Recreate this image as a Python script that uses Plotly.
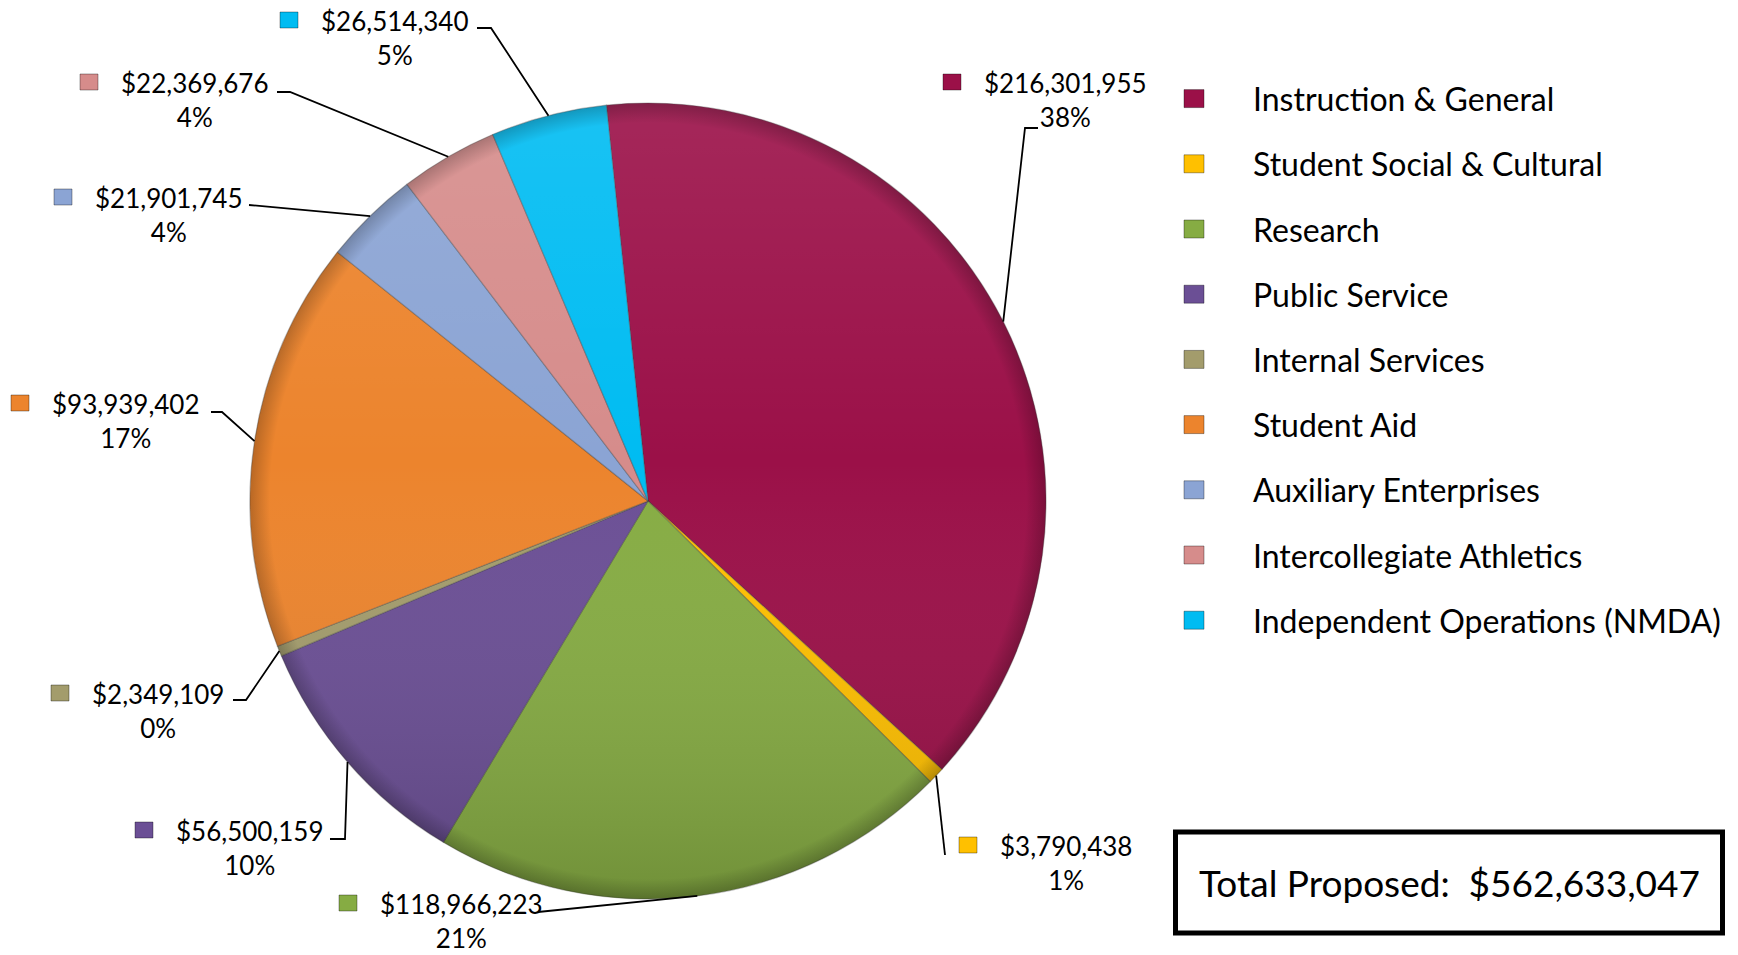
import math
import base64
import plotly.graph_objects as go

# ---- data -------------------------------------------------------------
CATEGORIES = [
    "Instruction & General",
    "Student Social & Cultural",
    "Research",
    "Public Service",
    "Internal Services",
    "Student Aid",
    "Auxiliary Enterprises",
    "Intercollegiate Athletics",
    "Independent Operations (NMDA)",
]
AMOUNTS = [
    216301955,
    3790438,
    118966223,
    56500159,
    2349109,
    93939402,
    21901745,
    22369676,
    26514340,
]
COLORS = [
    "#9B1048", "#FFC000", "#86AC43", "#6B4F95", "#A39C6C",
    "#EC842D", "#8BA4D4", "#D68C8B", "#00BCF2",
]
TOTAL_LABEL = "Total Proposed:"

# ---- page geometry (pixels) ------------------------------------------
W, H = 1738, 955
CX, CY, R = 648, 501, 398          # pie centre and radius
ROTATION = -6                      # first slice starts 6 deg left of 12 o'clock

# data-label blocks: left edge of the amount line, centre y of the amount line
LABEL_POS = [
    (982, 82), (998, 845), (378, 903), (174, 830), (90, 693),
    (50, 403), (93, 197), (119, 82), (319, 20),
]
# leader-line bend points from the label towards the slice edge
LEADER_PTS = [
    [(1038, 128), (1025, 128)],
    [(945, 855)],
    [(538, 912)],
    [(330, 839), (345, 839)],
    [(233, 700), (246, 700)],
    [(211, 412), (222, 412)],
    [(249, 205)],
    [(277, 92), (290, 92)],
    [(477, 28), (491, 28)],
]
LEGEND_X_MARK, LEGEND_X_TEXT = 1194, 1251
LEGEND_Y0, LEGEND_STEP = 98.6, 65.2
BOX = (1175.5, 832, 1722.5, 933)

FONT = "Lato, 'Open Sans', sans-serif"


def px(x):
    return x / W


def py(y):
    return 1 - y / H


total = sum(AMOUNTS)

fig = go.Figure(
    go.Pie(
        labels=CATEGORIES,
        values=AMOUNTS,
        sort=False,
        direction="clockwise",
        rotation=ROTATION,
        marker=dict(colors=COLORS, line=dict(color="rgba(60,60,60,0.35)", width=1.2)),
        textinfo="none",
        hoverinfo="label+value+percent",
        domain=dict(x=[px(CX - R), px(CX + R)], y=[py(CY + R), py(CY - R)]),
        showlegend=False,
    )
)

shapes = []
annotations = []

# slice mid-angles (degrees clockwise from 12 o'clock)
cum = 0.0
for i, (cat, val, col) in enumerate(zip(CATEGORIES, AMOUNTS, COLORS)):
    frac = val / total
    mid = ROTATION + 360 * (cum + frac / 2)
    cum += frac
    a = math.radians(mid)
    ex, ey = CX + R * math.sin(a), CY - R * math.cos(a)

    # leader line
    pts = LEADER_PTS[i] + [(ex, ey)]
    path = "M " + " L ".join(f"{px(x):.5f},{py(y):.5f}" for x, y in pts)
    shapes.append(dict(type="path", xref="paper", yref="paper", path=path,
                       line=dict(color="black", width=1.8)))

    # label text: amount over percentage
    lx, ly = LABEL_POS[i]
    pct = round(100 * frac)
    annotations.append(dict(
        x=px(lx), y=py(ly + 18), xref="paper", yref="paper",
        xanchor="left", yanchor="middle", align="center", showarrow=False,
        text=f"${val:,}<br>{pct}%",
        font=dict(family=FONT, size=26, color="black"),
    ))
    # small colour key in front of the amount
    mx, s = lx - 30, 9
    shapes.append(dict(type="rect", xref="paper", yref="paper",
                       x0=px(mx - s), x1=px(mx + s), y0=py(ly + 8), y1=py(ly - 8),
                       fillcolor=col, line=dict(color="rgba(0,0,0,0.35)", width=1)))

    # legend entry
    gy = LEGEND_Y0 + i * LEGEND_STEP
    shapes.append(dict(type="rect", xref="paper", yref="paper",
                       x0=px(LEGEND_X_MARK - 10), x1=px(LEGEND_X_MARK + 10),
                       y0=py(gy + 9), y1=py(gy - 9),
                       fillcolor=col, line=dict(color="rgba(0,0,0,0.35)", width=1)))
    annotations.append(dict(
        x=px(LEGEND_X_TEXT), y=py(gy), xref="paper", yref="paper",
        xanchor="left", yanchor="middle", showarrow=False, text=cat,
        font=dict(family=FONT, size=32, color="black"),
    ))

# total box
bx0, by0, bx1, by1 = BOX
shapes.append(dict(type="rect", xref="paper", yref="paper",
                   x0=px(bx0), x1=px(bx1), y0=py(by1), y1=py(by0),
                   line=dict(color="black", width=5), fillcolor="rgba(0,0,0,0)"))
annotations.append(dict(
    x=px((bx0 + bx1) / 2), y=py((by0 + by1) / 2), xref="paper", yref="paper",
    xanchor="center", yanchor="middle", showarrow=False,
    text=f"{TOTAL_LABEL}\u00a0 ${total:,}",
    font=dict(family=FONT, size=37, color="black"),
))

# soft top-light / bottom-shade over the pie
svg = (
    "<svg xmlns='http://www.w3.org/2000/svg' viewBox='0 0 100 100'>"
    "<defs>"
    "<linearGradient id='g' x1='0' y1='0' x2='0' y2='1'>"
    "<stop offset='0' stop-color='#ffffff' stop-opacity='0.10'/>"
    "<stop offset='0.45' stop-color='#ffffff' stop-opacity='0'/>"
    "<stop offset='1' stop-color='#000000' stop-opacity='0.16'/>"
    "</linearGradient>"
    "<radialGradient id='e' cx='50' cy='50' r='50' gradientUnits='userSpaceOnUse'>"
    "<stop offset='0.95' stop-color='#000000' stop-opacity='0'/>"
    "<stop offset='1' stop-color='#000000' stop-opacity='0.22'/>"
    "</radialGradient>"
    "</defs>"
    "<circle cx='50' cy='50' r='50' fill='url(#g)'/>"
    "<circle cx='50' cy='50' r='50' fill='url(#e)'/>"
    "</svg>"
)
src = "data:image/svg+xml;base64," + base64.b64encode(svg.encode()).decode()

fig.update_layout(
    width=W, height=H,
    margin=dict(l=0, r=0, t=0, b=0),
    paper_bgcolor="white", plot_bgcolor="white",
    showlegend=False,
    shapes=shapes,
    annotations=annotations,
    images=[dict(source=src, xref="paper", yref="paper",
                 x=px(CX - R), y=py(CY - R), sizex=2 * R / W, sizey=2 * R / H,
                 xanchor="left", yanchor="top", sizing="stretch", layer="above")],
)

fig.write_html("out.html")
